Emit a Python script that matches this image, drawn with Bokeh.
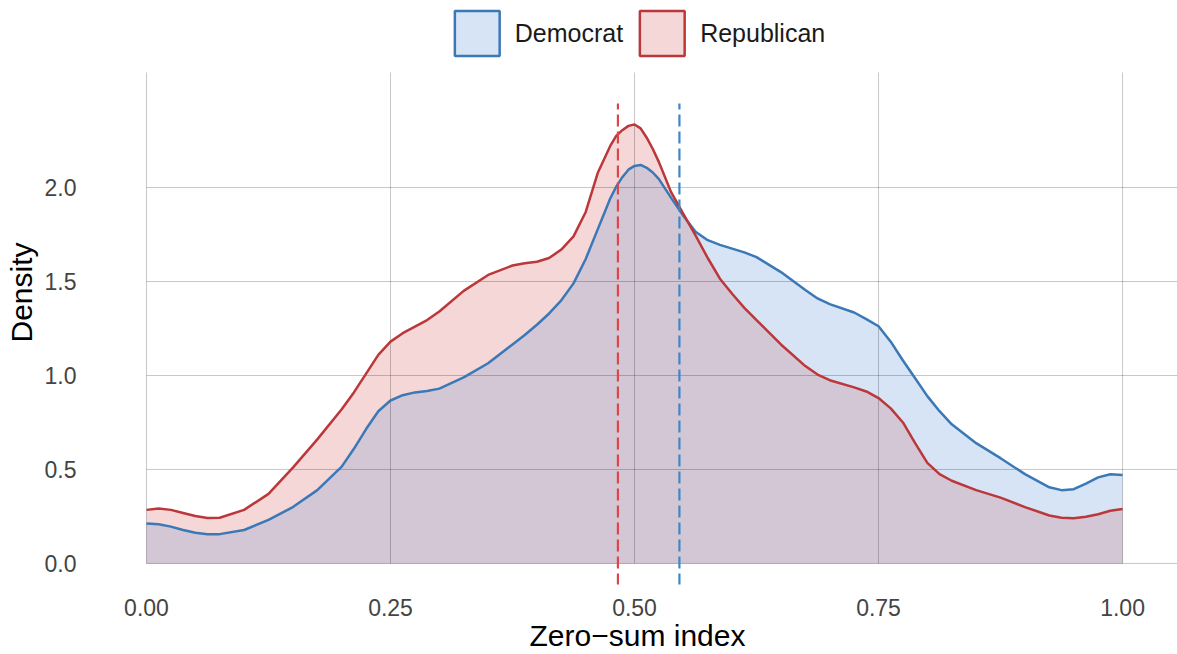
from bokeh.plotting import figure
from bokeh.models import Range1d, Legend, LegendItem, FixedTicker
from bokeh.embed import file_html
from bokeh.resources import INLINE

# ---- data ----
x_grid = [0.0, 0.0125, 0.025, 0.0375, 0.05, 0.0625, 0.075, 0.1, 0.125, 0.15,
          0.175, 0.2, 0.2125, 0.225, 0.2375, 0.25, 0.2625, 0.275, 0.2875, 0.3,
          0.325, 0.35, 0.375, 0.3875, 0.4, 0.4125, 0.425, 0.4375, 0.45, 0.4625,
          0.475, 0.48125, 0.4875, 0.49375, 0.5, 0.50625, 0.5125, 0.51875, 0.525, 0.5375,
          0.55, 0.5625, 0.575, 0.5875, 0.6, 0.6125, 0.625, 0.65, 0.675, 0.6875,
          0.7, 0.725, 0.7375, 0.75, 0.7625, 0.775, 0.7875, 0.8, 0.8125, 0.825,
          0.85, 0.875, 0.9, 0.925, 0.9375, 0.95, 0.9625, 0.975, 0.9875, 1.0]

democrat = [0.213, 0.208, 0.196, 0.178, 0.163, 0.155, 0.156, 0.178, 0.232, 0.300,
            0.390, 0.515, 0.610, 0.715, 0.810, 0.867, 0.895, 0.910, 0.918, 0.930,
            0.990, 1.065, 1.165, 1.215, 1.270, 1.330, 1.400, 1.490, 1.620, 1.780,
            1.940, 2.005, 2.055, 2.095, 2.115, 2.120, 2.105, 2.080, 2.045, 1.945,
            1.850, 1.765, 1.720, 1.695, 1.675, 1.655, 1.630, 1.550, 1.455, 1.410,
            1.380, 1.335, 1.300, 1.262, 1.180, 1.080, 0.985, 0.890, 0.810, 0.740,
            0.640, 0.560, 0.475, 0.405, 0.390, 0.395, 0.425, 0.458, 0.475, 0.470]

republican = [0.285, 0.292, 0.285, 0.268, 0.252, 0.242, 0.243, 0.285, 0.370, 0.510,
              0.660, 0.820, 0.910, 1.010, 1.110, 1.180, 1.225, 1.260, 1.295, 1.340,
              1.450, 1.535, 1.585, 1.597, 1.605, 1.625, 1.670, 1.740, 1.870, 2.080,
              2.220, 2.275, 2.305, 2.328, 2.335, 2.315, 2.265, 2.205, 2.135, 1.975,
              1.860, 1.745, 1.625, 1.515, 1.435, 1.360, 1.295, 1.165, 1.050, 1.005,
              0.975, 0.937, 0.915, 0.880, 0.825, 0.750, 0.640, 0.535, 0.475, 0.440,
              0.390, 0.350, 0.300, 0.255, 0.243, 0.240, 0.248, 0.262, 0.280, 0.290]

mean_democrat = 0.546
mean_republican = 0.483

parties = ["Democrat", "Republican"]
x_ticks = [0.0, 0.25, 0.5, 0.75, 1.0]
x_tick_labels = ["0.00", "0.25", "0.50", "0.75", "1.00"]
y_ticks = [0.0, 0.5, 1.0, 1.5, 2.0]
y_tick_labels = ["0.0", "0.5", "1.0", "1.5", "2.0"]

# ---- styles ----
DEM_LINE = "#3a78b6"
REP_LINE = "#bb373a"
DEM_FILL = "#d6e4f5"
REP_FILL = "#f5d7d8"
OVERLAP_FILL = "#d4c7d5"
FONT = "Liberation Sans"

X0, X1 = -0.0502, 1.0563
Y0, Y1 = -0.112, 2.995
PANEL_TOP = 2.612

p = figure(width=1177, height=654, x_range=Range1d(X0, X1), y_range=Range1d(Y0, Y1),
           output_backend="svg", toolbar_location=None,
           min_border_left=97, min_border_right=0, min_border_top=0, min_border_bottom=0)
p.grid.visible = False
p.outline_line_color = None
p.background_fill_color = "white"
p.border_fill_color = "white"

overlap = [min(d, r) for d, r in zip(democrat, republican)]

# filled areas
p.varea(x=x_grid, y1=0, y2=democrat, fill_color=DEM_FILL)
p.varea(x=x_grid, y1=0, y2=republican, fill_color=REP_FILL)
p.varea(x=x_grid, y1=0, y2=overlap, fill_color=OVERLAP_FILL)

# grid lines
p.segment(x0=[0.0] * len(y_ticks), y0=y_ticks, x1=[X1] * len(y_ticks), y1=y_ticks,
          line_color="black", line_alpha=0.22, line_width=1)
p.segment(x0=x_ticks, y0=[0.0] * len(x_ticks), x1=x_ticks, y1=[PANEL_TOP] * len(x_ticks),
          line_color="black", line_alpha=0.22, line_width=1)

# density curves
p.line(x_grid, democrat, line_color=DEM_LINE, line_width=2.5, line_join="round")
p.line(x_grid, republican, line_color=REP_LINE, line_width=2.5, line_join="round")

# mean lines
p.segment(x0=[mean_republican], y0=[-0.117], x1=[mean_republican], y1=[2.447],
          line_color="#d9474b", line_width=2.2, line_dash="12 5")
p.segment(x0=[mean_democrat], y0=[-0.117], x1=[mean_democrat], y1=[2.447],
          line_color="#3f86c6", line_width=2.2, line_dash="12 5")

# legend key proxies (outside the visible ranges)
r_dem = p.quad(left=[-1], right=[-1], top=[-1], bottom=[-1], fill_color=DEM_FILL,
               line_color=DEM_LINE, line_width=2.5)
r_rep = p.quad(left=[-1], right=[-1], top=[-1], bottom=[-1], fill_color=REP_FILL,
               line_color=REP_LINE, line_width=2.5)
legend = Legend(items=[LegendItem(label=parties[0], renderers=[r_dem]),
                       LegendItem(label=parties[1], renderers=[r_rep])],
                orientation="horizontal", location="top_center",
                glyph_width=56, glyph_height=56, label_standoff=10, spacing=11,
                label_text_font=FONT, label_text_font_size="25px",
                label_text_color="#1a1a1a", padding=0, margin=5,
                border_line_color=None, background_fill_alpha=0)
p.add_layout(legend, "center")

# axes
p.xaxis.ticker = FixedTicker(ticks=x_ticks)
p.xaxis.major_label_overrides = dict(zip(x_ticks, x_tick_labels))
p.yaxis.ticker = FixedTicker(ticks=y_ticks)
p.yaxis.major_label_overrides = dict(zip(y_ticks, y_tick_labels))
for ax in (p.xaxis, p.yaxis):
    ax.axis_line_color = None
    ax.major_tick_line_color = None
    ax.minor_tick_line_color = None
    ax.major_label_text_font = FONT
    ax.major_label_text_font_size = "23px"
    ax.major_label_text_color = "#444444"
    ax.axis_label_text_font = FONT
    ax.axis_label_text_font_size = "30px"
    ax.axis_label_text_font_style = "normal"
    ax.axis_label_text_color = "black"

p.xaxis.axis_label = "Zero\u2212sum index"
p.yaxis.axis_label = "Density"
p.xaxis.major_label_standoff = 8
p.xaxis.axis_label_standoff = 0
p.yaxis.major_label_standoff = 15
p.yaxis.axis_label_standoff = 4

open("out.html", "w").write(file_html(p, INLINE))
